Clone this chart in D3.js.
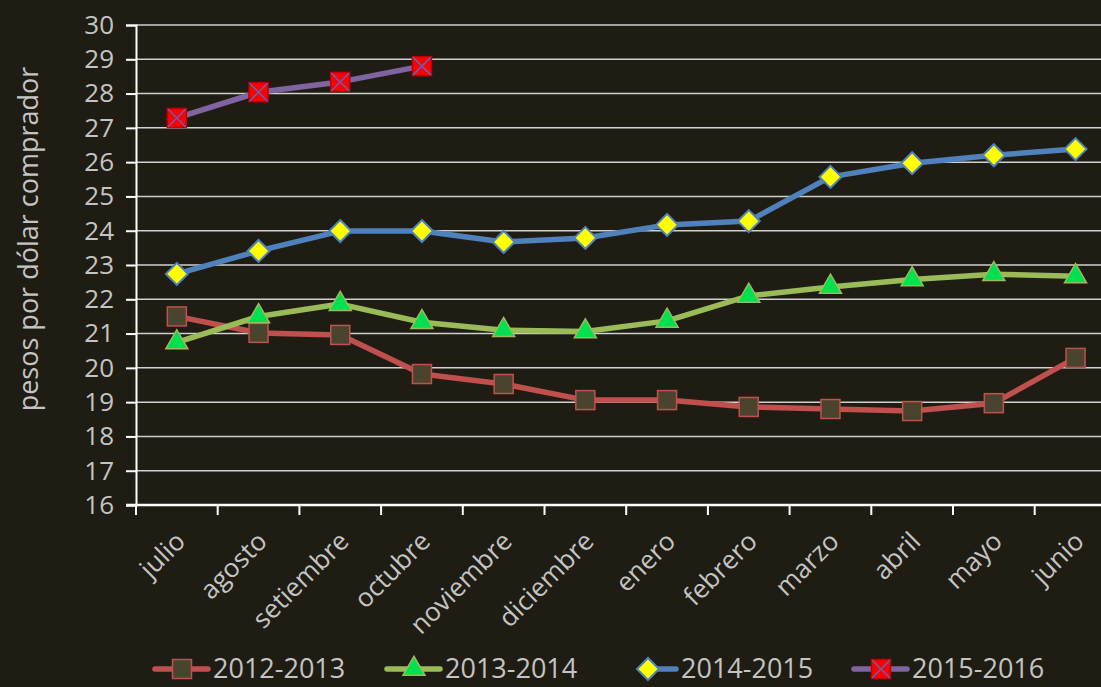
<!DOCTYPE html>
<html>
<head>
<meta charset="utf-8">
<script src="https://cdn.jsdelivr.net/npm/d3@7"></script>
<style>
  body { margin: 0; background: #1f1d13; }
  svg { display: block; }
  text { font-family: "Open Sans", sans-serif; fill: #c4c4c4; }
</style>
</head>
<body>
<svg id="chart" width="1101" height="687"></svg>
<script>
var months = ["julio", "agosto", "setiembre", "octubre", "noviembre", "diciembre",
              "enero", "febrero", "marzo", "abril", "mayo", "junio"];
var s2012 = [21.5, 21.02, 20.96, 19.82, 19.53, 19.06, 19.06, 18.86, 18.8, 18.74, 18.97, 20.29];
var s2013 = [20.74, 21.5, 21.86, 21.33, 21.1, 21.06, 21.37, 22.1, 22.36, 22.58, 22.73, 22.67];
var s2014 = [22.74, 23.41, 23.99, 23.99, 23.67, 23.79, 24.17, 24.28, 25.57, 25.97, 26.2, 26.38];
var s2015 = [27.29, 28.04, 28.34, 28.8];
var yTicks = d3.range(16, 31);

var series = [
  { id: "2012-2013", values: s2012, line: "#c0504d", fill: "#4a442e", stroke: "#c0504d", shape: "square" },
  { id: "2013-2014", values: s2013, line: "#9bbb59", fill: "#00e050", stroke: "#9bbb59", shape: "triangle" },
  { id: "2014-2015", values: s2014, line: "#4f81bd", fill: "#ffff00", stroke: "#4f81bd", shape: "diamond" },
  { id: "2015-2016", values: s2015, line: "#8064a2", fill: "#ff0000", stroke: "#c00000", shape: "cross" }
];

var svg = d3.select("#chart"),
    plotLeft = 136, plotTop = 25, plotBottom = 505,
    band = 81.7;

var x = d3.scaleBand().domain(months).range([plotLeft, plotLeft + band * months.length]);
var y = d3.scaleLinear().domain([16, 30]).range([plotBottom, plotTop]);

// grid
svg.append("g").selectAll("line")
  .data(yTicks.slice(1))
  .enter().append("line")
  .attr("x1", plotLeft).attr("x2", 1101)
  .attr("y1", function(d) { return y(d); })
  .attr("y2", function(d) { return y(d); })
  .attr("stroke", "#d0d0d0").attr("stroke-width", 1.5);

// y axis
var gy = svg.append("g")
  .attr("transform", "translate(" + plotLeft + ",0)")
  .call(d3.axisLeft(y).tickValues(yTicks).tickSize(10).tickPadding(12).tickFormat(d3.format("d")));
gy.select(".domain").attr("stroke", "#ffffff").attr("stroke-width", 2);
gy.selectAll(".tick line").attr("stroke", "#ffffff").attr("stroke-width", 2);
gy.selectAll(".tick text").style("font-size", "26px").style("font-family", "'Open Sans', sans-serif").attr("fill", "#c4c4c4");

// x axis
var gx = svg.append("g")
  .attr("transform", "translate(0," + plotBottom + ")");
gx.append("line").attr("x1", plotLeft - 10).attr("x2", 1101)
  .attr("stroke", "#ffffff").attr("stroke-width", 2.5);
gx.selectAll(".xt")
  .data(months)
  .enter().append("line")
  .attr("x1", function(d) { return x(d); })
  .attr("x2", function(d) { return x(d); })
  .attr("y1", 0).attr("y2", 10)
  .attr("stroke", "#ffffff").attr("stroke-width", 2);
gx.selectAll(".xl")
  .data(months)
  .enter().append("text")
  .attr("text-anchor", "end")
  .attr("transform", function(d) {
    return "translate(" + (x(d) + x.bandwidth() / 2 + 10) + ",38) rotate(-45)"; })
  .style("font-size", "26px")
  .text(function(d) { return d; });

// y label
svg.append("text")
  .attr("transform", "translate(38,239) rotate(-90)")
  .attr("text-anchor", "middle")
  .style("font-size", "27px")
  .text("pesos por dólar comprador");

var line = d3.line()
  .x(function(d, i) { return x(months[i]) + x.bandwidth() / 2; })
  .y(function(d) { return y(d); });

function marker(g, s) {
  if (s.shape == "square" || s.shape == "cross") {
    g.append("rect").attr("x", -9.5).attr("y", -9.5).attr("width", 19).attr("height", 19)
      .attr("fill", s.fill).attr("stroke", s.stroke).attr("stroke-width", 1.5);
    if (s.shape == "cross") {
      g.append("path").attr("d", "M-9,-9L9,9M9,-9L-9,9")
        .attr("stroke", "#6a5fb5").attr("stroke-width", 1.5);
    }
  } else if (s.shape == "triangle") {
    g.append("path").attr("d", d3.symbol(d3.symbolTriangle, 210)())
      .attr("fill", s.fill).attr("stroke", s.stroke).attr("stroke-width", 1.5);
  } else {
    g.append("path").attr("d", "M0,-11L11,0L0,11L-11,0Z")
      .attr("fill", s.fill).attr("stroke", s.stroke).attr("stroke-width", 2);
  }
}

series.forEach(function(s) {
  svg.append("path")
    .attr("d", line(s.values))
    .attr("fill", "none")
    .attr("stroke", s.line)
    .attr("stroke-width", 5.5)
    .attr("stroke-linejoin", "round");
  s.values.forEach(function(v, i) {
    var g = svg.append("g")
      .attr("transform", "translate(" + (x(months[i]) + x.bandwidth() / 2) + "," + y(v) + ")");
    marker(g, s);
  });
});

// legend
var legendX = [155, 387, 623, 854];
series.forEach(function(s, i) {
  var lg = svg.append("g").attr("transform", "translate(" + legendX[i] + ",669)");
  var x0 = s.shape == "diamond" ? 25 : 0;
  lg.append("line").attr("x1", x0).attr("x2", 53)
    .attr("stroke", s.line).attr("stroke-width", 5.5).attr("stroke-linecap", "round");
  var m = lg.append("g").attr("transform", "translate(" + (s.shape == "diamond" ? 25 : 27) + ",0)");
  marker(m, s);
  lg.append("text").attr("x", 58).attr("y", 9)
    .style("font-size", "27px")
    .text(s.id);
});
</script>
</body>
</html>
